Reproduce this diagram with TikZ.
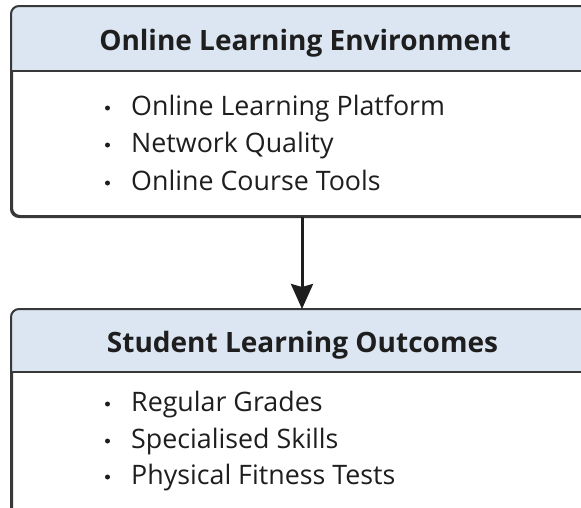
\documentclass[tikz,border=0pt]{standalone}
\usepackage{fontspec}
\setmainfont{Open Sans}
\usetikzlibrary{arrows.meta}
\definecolor{hdrblue}{HTML}{DCE6F2}
\definecolor{edgegray}{HTML}{383838}
\definecolor{txt}{HTML}{1E1E1E}

\tikzset{
  panel/.style={draw=edgegray, line width=2pt, rounded corners=8pt,
    minimum width=580pt, inner sep=0pt},
  headtext/.style={anchor=base, font=\fontsize{28}{32}\selectfont\bfseries, text=txt, inner sep=0pt},
  itemtext/.style={anchor=base west, font=\fontsize{26.8}{30}\selectfont, text=txt, inner sep=0pt},
  dotmark/.style={circle, fill=txt, minimum size=5pt, inner sep=0pt},
  flow/.style={draw=txt, line width=3pt, -{Stealth[length=25pt, width=22pt, inset=3pt]}},
}

\newcommand\panelhead[2]{%
  \begin{scope}
    \clip[rounded corners=8pt] (#1.north west) rectangle (#1.south east);
    \fill[hdrblue] (#1.north west) rectangle ([yshift=-#2]#1.north east);
  \end{scope}
  \draw[edgegray, line width=2.2pt] ([yshift=-#2]#1.north west) -- ([yshift=-#2]#1.north east);
  \draw[panel] (#1.north west) rectangle (#1.south east);
}

\begin{document}
\begin{tikzpicture}[x=1pt, y=-1pt]
  \useasboundingbox (0,0) rectangle (581,507);
  \clip (0,0) rectangle (581,507);
  \fill[white] (0,0) rectangle (581,507);

  % upper panel: environment
  \node[panel, minimum height=209pt] (env) at (302,111.5) {};
  \panelhead{env}{65pt}
  \node[headtext] (envtitle) at (305,50) {Online Learning Environment};
  \node[itemtext] (e1) at (131,115) {Online Learning Platform};
  \node[itemtext] (e2) at (131,152) {Network Quality};
  \node[itemtext] (e3) at (131,190) {Online Course Tools};
  \node[dotmark] (d1) at (107.5,108) {};
  \node[dotmark] (d2) at (107.5,145) {};
  \node[dotmark] (d3) at (107.5,183) {};

  % lower panel: outcomes
  \node[panel, minimum height=220pt] (out) at (302,420) {};
  \panelhead{out}{63pt}
  \node[headtext] (outtitle) at (302.5,352) {Student Learning Outcomes};
  \node[itemtext] (o1) at (131,411) {Regular Grades};
  \node[itemtext] (o2) at (131,448) {Specialised Skills};
  \node[itemtext] (o3) at (131,484) {Physical Fitness Tests};
  \node[dotmark] (p1) at (107.5,404) {};
  \node[dotmark] (p2) at (107.5,441) {};
  \node[dotmark] (p3) at (107.5,477) {};

  % influence arrow
  \draw[flow] (env.south) -- (out.north);
\end{tikzpicture}
\end{document}
